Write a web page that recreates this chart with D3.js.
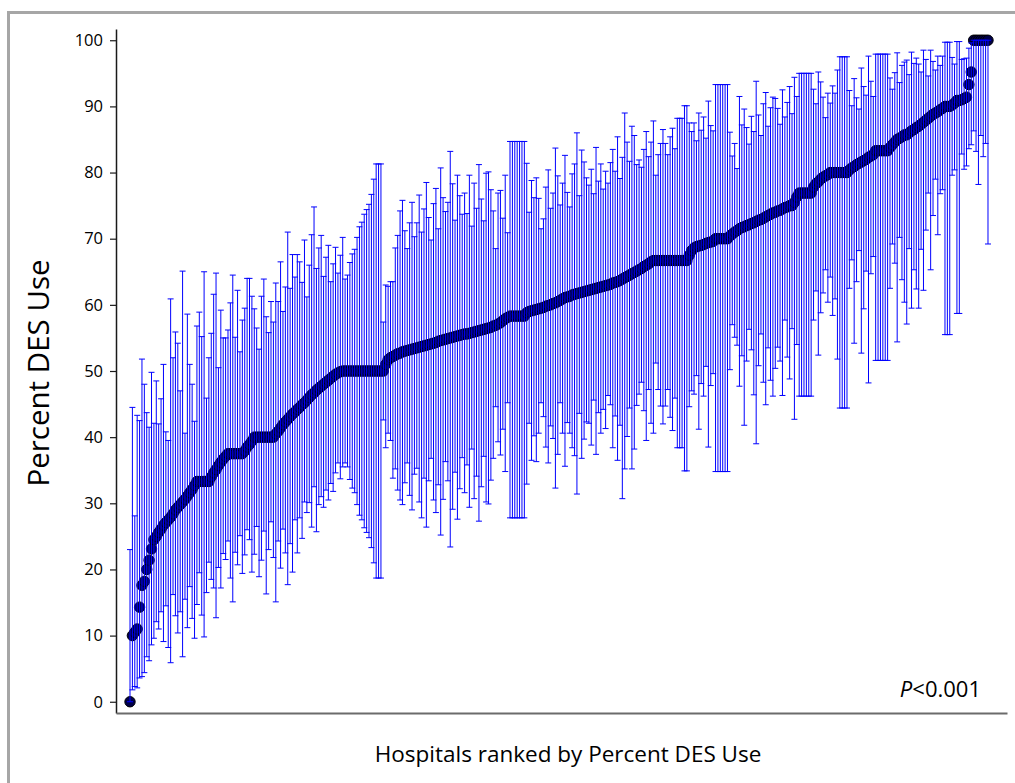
<!DOCTYPE html>
<html>
<head>
<meta charset="utf-8">
<script src="https://cdn.jsdelivr.net/npm/d3@7"></script>
<style>
  body { margin: 0; background: #fff; }
  svg { display: block; font-family: "Open Sans", sans-serif; }
</style>
</head>
<body>
<script>
// percent DES use per hospital, ranked
const pct = [
  0, 10, 10.5, 11, 14.3, 17.6, 18.2, 20, 21.4, 23.1,
  24.5, 25, 25.6, 26.1, 26.7, 27.1, 27.5, 27.9, 28.4, 29,
  29.4, 29.8, 30.2, 30.6, 31.1, 31.6, 32.1, 32.7, 33.3, 33.3,
  33.3, 33.3, 33.3, 33.3, 34, 34.6, 35.1, 35.7, 36.2, 36.7,
  37.1, 37.5, 37.5, 37.5, 37.5, 37.5, 37.5, 37.5, 37.9, 38.5,
  38.9, 39.4, 40, 40, 40, 40, 40, 40, 40, 40,
  40, 40.5, 40.9, 41.4, 41.9, 42.3, 42.7, 43.1, 43.5, 43.8,
  44.2, 44.5, 44.9, 45.2, 45.6, 46, 46.4, 46.7, 47.1, 47.4,
  47.7, 48, 48.3, 48.6, 48.9, 49.2, 49.5, 49.7, 49.9, 50,
  50, 50, 50, 50, 50, 50, 50, 50, 50, 50,
  50, 50, 50, 50, 50, 50, 50, 51, 51.7, 52,
  52.2, 52.4, 52.6, 52.7, 52.9, 53, 53.1, 53.2, 53.3, 53.4,
  53.5, 53.6, 53.7, 53.8, 53.9, 54, 54.1, 54.2, 54.3, 54.5,
  54.6, 54.7, 54.8, 54.9, 55, 55.1, 55.2, 55.3, 55.4, 55.5,
  55.6, 55.6, 55.7, 55.8, 55.9, 56, 56.1, 56.2, 56.3, 56.4,
  56.5, 56.6, 56.8, 56.9, 57.1, 57.3, 57.6, 57.9, 58.1, 58.3,
  58.3, 58.3, 58.3, 58.3, 58.3, 58.3, 58.8, 59, 59.1, 59.2,
  59.3, 59.4, 59.5, 59.6, 59.8, 59.9, 60, 60.2, 60.3, 60.5,
  60.7, 60.9, 61.1, 61.2, 61.3, 61.5, 61.6, 61.7, 61.8, 61.9,
  62, 62.1, 62.2, 62.3, 62.4, 62.5, 62.6, 62.7, 62.8, 62.9,
  63, 63.1, 63.3, 63.4, 63.5, 63.7, 63.9, 64.1, 64.3, 64.5,
  64.7, 64.9, 65.1, 65.3, 65.5, 65.8, 66, 66.2, 66.5, 66.7,
  66.7, 66.7, 66.7, 66.7, 66.7, 66.7, 66.7, 66.7, 66.7, 66.7,
  66.7, 66.7, 66.7, 66.7, 67.5, 68.2, 68.6, 68.8, 68.9, 69,
  69.1, 69.3, 69.4, 69.5, 69.6, 70, 70, 70, 70, 70,
  70, 70.4, 70.7, 71, 71.2, 71.5, 71.7, 71.8, 72, 72.1,
  72.3, 72.4, 72.6, 72.8, 72.9, 73.1, 73.3, 73.5, 73.7, 73.9,
  74, 74.2, 74.3, 74.5, 74.7, 74.8, 75, 75, 75.5, 76.3,
  76.9, 76.9, 76.9, 76.9, 76.9, 76.9, 77.8, 78.3, 78.6, 79,
  79.3, 79.5, 79.7, 80, 80, 80, 80, 80, 80, 80,
  80, 80.4, 80.7, 80.9, 81.2, 81.4, 81.6, 81.8, 82, 82.3,
  82.5, 82.7, 83.3, 83.3, 83.3, 83.3, 83.3, 83.3, 83.8, 84.2,
  84.6, 85, 85.2, 85.4, 85.7, 85.7, 86, 86.3, 86.5, 86.8,
  87, 87.3, 87.6, 87.9, 88.2, 88.5, 88.8, 89, 89.2, 89.5,
  89.7, 90, 90, 90, 90.2, 90.5, 90.9, 90.9, 91, 91.2,
  91.4, 93.3, 95.2, 100, 100, 100, 100, 100, 100, 100
];

// lower end of each error bar
const lower = [
  0, 1.8, 2.3, 2.1, 3.6, 3.8, 4.4, 6.8, 6.2, 8.6,
  9.6, 12.1, 11, 13.6, 9.1, 14.5, 8.2, 5.9, 16.2, 13,
  10.4, 13.6, 6.8, 15.5, 11.2, 17.4, 12.6, 9.6, 14.7, 19.5,
  13.1, 9.8, 16.5, 21.1, 18.5, 17.2, 12.7, 20.3, 17.2, 22.4,
  21.5, 24.3, 18.7, 15.1, 22.6, 20.7, 25.1, 19.4, 22.2, 26,
  24.5, 19.6, 22.3, 26.5, 18.9, 21.4, 25.8, 16.3, 23, 27.2,
  21.8, 15.1, 24.3, 20.2, 26.1, 22.5, 17.7, 23.9, 19.6, 27.5,
  22.5, 27.8, 24.7, 30.2, 28.6, 30.1, 26.4, 32.5, 25.7, 29.8,
  31, 29.4, 32, 30.5, 33, 31.8, 34.6, 36.1, 33.7, 35.5,
  36.1, 35.5, 33.6, 32.3, 31.6, 29.8, 28.2, 27.5, 26.3, 25.6,
  24.8, 23.3, 21, 18.7, 18.7, 18.7, 42.6, 38.4, 40.6, 39.5,
  33.8, 35.2, 32, 30.5, 29.8, 33.1, 36.1, 31.2, 29, 34.4,
  35.3, 30.2, 27.8, 33.8, 26.4, 33.4, 36.8, 30.5, 28.6, 32.8,
  25.2, 30.6, 36.3, 33.4, 23.4, 29.1, 34.7, 27.6, 32.2, 36.9,
  31.6, 35.8, 29.4, 38.2, 30.7, 34.1, 27.3, 32.5, 37.1, 30.2,
  29.9, 33.5, 36.8, 44.6, 39.3, 37.3, 41.2, 34.8, 45.2, 27.8,
  27.8, 27.8, 27.8, 27.8, 27.8, 27.8, 32.9, 42.1, 36.5, 40.2,
  36.3, 40.6, 45.2, 43.1, 38.5, 36.1, 41.7, 39.8, 32.3, 37.4,
  45.2, 40.6, 35.6, 42.2, 40.6, 38.4, 37.2, 31.4, 43.6, 36.8,
  39.7, 42.3, 42.1, 38.8, 45.6, 37.4, 43.7, 40.6, 44.2, 41.3,
  46.3, 44.9, 38.4, 43.2, 36.5, 41.8, 30.7, 35.2, 40.1, 44.4,
  35.2, 38.2, 44.8, 46.5, 48.3, 44, 39.5, 47.2, 42.1, 40.6,
  51.2, 47.2, 44.7, 42, 44.7, 47.2, 43, 41, 45.9, 38.4,
  38.4, 38.4, 34.9, 34.9, 44.6, 47, 46.5, 49.3, 41.2, 48.1,
  46.2, 50.7, 38.5, 47.8, 49.6, 34.8, 34.8, 34.8, 34.8, 34.8,
  34.8, 50.2, 57, 55.1, 53.9, 47.7, 52.3, 41.8, 51.5, 56.3,
  53.2, 46.4, 39, 50.8, 55.6, 48.3, 44.9, 53.5, 48.6, 46.2,
  50.4, 53.6, 51.5, 46.3, 57.7, 52.1, 48.8, 56.4, 42.7, 54,
  46.2, 46.2, 46.2, 46.2, 46.2, 46.2, 57.7, 62.1, 52.4, 58.8,
  61.8, 65.3, 60.4, 64.2, 58.4, 60.9, 51.8, 44.4, 44.4, 44.4,
  44.4, 62.5, 66.8, 54.2, 63.5, 68.2, 52.7, 59.4, 65.1, 48.2,
  64.7, 67.3, 51.6, 51.6, 51.6, 51.6, 51.6, 51.6, 62.5, 69.2,
  66.3, 54.4, 70.2, 63.8, 60.4, 57.1, 68.5, 59.5, 65.3, 62.4,
  59.5, 68.4, 62.2, 71.3, 76.9, 65.3, 73.5, 79, 70.6, 76.8,
  77.4, 55.5, 55.5, 55.5, 79.6, 80.4, 58.7, 58.7, 82.8, 80.5,
  81, 83.6, 84.2, 86.3, 83.2, 78.2, 85.6, 82.4, 84.4, 69.2
];

// upper end of each error bar
const upper = [
  23, 44.5, 28.1, 43.3, 42.5, 51.8, 48, 43.7, 41.5, 49.8,
  42.1, 48.5, 42, 45.8, 51, 40.8, 39.5, 60.9, 52, 55.9,
  54.2, 47, 65.1, 40.6, 58.6, 51, 48, 42.4, 56.8, 58.9,
  55.2, 65, 45.9, 52, 55.7, 61.6, 64.8, 50.5, 59.2, 55,
  55, 56.2, 60.3, 64.5, 55.1, 62.2, 52.9, 57.7, 59.5, 64,
  64, 61.3, 59.4, 56.5, 53.3, 61.3, 63.9, 58.2, 55.8, 60.5,
  57.4, 63.3, 60.5, 66.5, 59, 62.7, 71, 62.5, 67.6, 64.2,
  67.6, 66.5, 63.4, 69.8, 61.2, 66, 70.6, 74.8, 65.5, 68.6,
  70.5, 64.3, 67.2, 69, 63.5, 66.2, 68.7, 64.8, 67.5, 70.2,
  63.9, 64.5, 66.4, 67.7, 68.4, 70.2, 71.8, 72.5, 73.7, 74.4,
  75.2, 76.7, 79, 81.3, 81.3, 81.3, 57.4, 63, 62.8, 63.5,
  63.5, 68.6, 70.5, 74.2, 75.8, 71.2, 68.5, 72.4, 75.5, 70.3,
  72.4, 76.6, 71, 74.5, 78.5, 73.2, 69.8, 75.3, 77.6, 71.5,
  80.7, 76.2, 74.1, 75.5, 83.2, 78.3, 72.8, 79.6, 76.5, 73.7,
  76.9, 73.8, 79.6, 71.9, 78.4, 74.6, 81.2, 76, 72.7, 79.9,
  80.1, 77.4, 74.2, 68.5, 76.9, 77.3, 73.1, 79.6, 70.9, 84.7,
  84.7, 84.7, 84.7, 84.7, 84.7, 84.7, 81.4, 74, 78.8, 76.2,
  79.2, 76.1, 71.5, 73, 77.8, 80.4, 74.6, 76.9, 83.7, 79.5,
  75.1, 78.4, 82.6, 77, 74.8, 79.8, 81.3, 86, 76.5, 83.4,
  81.6, 79.2, 78.1, 80.5, 76.8, 83.8, 78.7, 81.3, 77.5, 80.2,
  78.4, 81.5, 83.5, 80.2, 85.4, 79.1, 82.3, 89, 84.6, 81.7,
  87, 85.6, 81.2, 81.9, 80.8, 83.5, 86.2, 82.4, 84.6, 87.8,
  79.6, 82.7, 84.4, 86.5, 84.4, 82.7, 85.4, 86.7, 83.6, 88.2,
  88.2, 88.2, 90.1, 90.1, 87.5, 86.2, 87.5, 84.8, 89, 86.4,
  88.4, 85.2, 90.8, 87.1, 86.3, 93.3, 93.3, 93.3, 93.3, 93.3,
  93.3, 86.1, 82.5, 84.4, 80.6, 91.5, 87.2, 89.6, 86.8, 84.3,
  88.5, 86.2, 93.8, 88.7, 85.6, 90.4, 92.1, 87, 89.8, 91.4,
  91.2, 89.7, 87.3, 92.5, 88.4, 90.6, 93, 88.9, 94.4, 91.5,
  95, 95, 95, 95, 95, 95, 92.6, 90.4, 95.2, 93.7,
  91.4, 88.3, 92, 90.5, 93.1, 92, 95.5, 97.5, 97.5, 97.5,
  97.5, 92.4, 90.1, 94.2, 91.3, 89.6, 95.8, 93, 91.7, 97.6,
  93.8, 91.5, 97.9, 97.9, 97.9, 97.9, 97.9, 97.9, 94.3, 92.6,
  95.1, 98.1, 93.6, 96.2, 96.7, 97, 94.8, 98.2, 96.5, 97.3,
  96.4, 95.2, 98.5, 97.1, 94.6, 98.5, 96.8, 95.5, 97.6, 96.2,
  97.6, 99.7, 99.7, 99.7, 97.4, 96.4, 99.8, 99.8, 97.1, 97.2,
  97.3, 98.8, 99.6, 100, 100, 100, 100, 100, 100, 100
];

const yTicks = [0, 10, 20, 30, 40, 50, 60, 70, 80, 90, 100];
const yTitle = 'Percent DES Use';
const xTitle = 'Hospitals ranked by Percent DES Use';
const pNote = '<0.001';

const width = 1015;
const height = 783;

const hospitals = pct.map((p, i) => ({ rank: i + 1, pct: p, lo: lower[i], hi: upper[i] }));

// x = hospital rank, y = percent
const x = d3.scaleLinear()
            .domain([-4.86, hospitals.length + 7.95])
            .range([116, 1007]);

const y = d3.scaleLinear()
            .domain([-1.7, 101.7])
            .range([713, 29]);

const svg = d3.select('body')
              .append('svg')
              .attr('width', width)
              .attr('height', height);

// grey frame round the figure
svg.append('rect')
   .attr('x', 8.5)
   .attr('y', 12.5)
   .attr('width', 1100)
   .attr('height', 900)
   .attr('fill', 'none')
   .attr('stroke', '#a6a6a6')
   .attr('stroke-width', 3);

// points
svg.append('g')
   .selectAll('circle')
   .data(hospitals)
   .join('circle')
   .attr('cx', d => x(d.rank))
   .attr('cy', d => y(d.pct))
   .attr('r', 5.2)
   .attr('fill', '#000048')
   .attr('stroke', '#000')
   .attr('stroke-width', 1);

// error bars drawn over the points
const bars = svg.append('g')
                .attr('stroke', '#0000ff')
                .attr('stroke-width', 1)
                .selectAll('g')
                .data(hospitals)
                .join('g');

bars.append('line')
    .attr('x1', d => x(d.rank))
    .attr('x2', d => x(d.rank))
    .attr('y1', d => y(d.lo))
    .attr('y2', d => y(d.hi));

bars.append('line')
    .attr('x1', d => x(d.rank) - 3)
    .attr('x2', d => x(d.rank) + 3)
    .attr('y1', d => y(d.hi))
    .attr('y2', d => y(d.hi));

bars.append('line')
    .attr('x1', d => x(d.rank) - 3)
    .attr('x2', d => x(d.rank) + 3)
    .attr('y1', d => y(d.lo))
    .attr('y2', d => y(d.lo));

// AXES
const yAxis = d3.axisLeft(y).tickValues(yTicks).tickSize(6).tickSizeOuter(0).tickPadding(7);
const gy = svg.append('g')
              .attr('transform', 'translate(116,0)')
              .call(yAxis);
gy.select('.domain').attr('stroke', '#1a1a1a').attr('stroke-width', 1.5);
gy.selectAll('.tick line').attr('stroke', '#1a1a1a').attr('stroke-width', 1.2);
gy.selectAll('.tick text')
  .attr('font-family', '"Open Sans", sans-serif')
  .attr('font-size', 16.5)
  .attr('fill', '#000');

const xAxis = d3.axisBottom(x).tickValues([]).tickSizeOuter(0);
const gx = svg.append('g')
              .attr('transform', 'translate(0,713)')
              .call(xAxis);
gx.select('.domain').attr('stroke', '#6b6b6b').attr('stroke-width', 2);

// titles
svg.append('text')
   .attr('transform', 'translate(37,373) rotate(-90)')
   .attr('text-anchor', 'middle')
   .attr('dominant-baseline', 'central')
   .attr('font-size', 29.5)
   .attr('fill', '#000')
   .text(yTitle);

svg.append('text')
   .attr('x', 568)
   .attr('y', 762)
   .attr('text-anchor', 'middle')
   .attr('font-size', 22.5)
   .attr('fill', '#000')
   .text(xTitle);

const note = svg.append('text')
   .attr('x', 981)
   .attr('y', 697)
   .attr('text-anchor', 'end')
   .attr('font-size', 22)
   .attr('fill', '#000');
note.append('tspan').attr('font-style', 'italic').text('P');
note.append('tspan').text(pNote);
</script>
</body>
</html>
